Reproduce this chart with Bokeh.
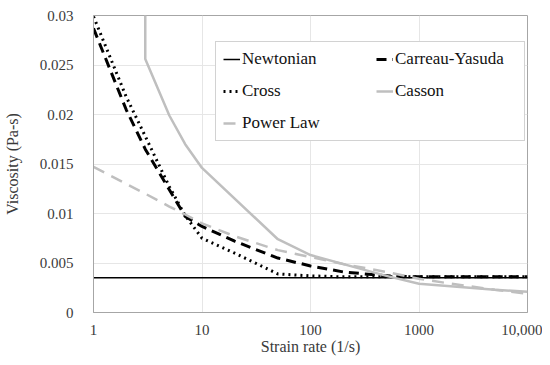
from bokeh.plotting import figure
from bokeh.models import FixedTicker, Legend, LegendItem, Range1d, InlineStyleSheet
from bokeh.embed import file_html
from bokeh.resources import INLINE

# ---- data ----
newt_x = [1, 10000]
newt_y = [0.0035, 0.0035]

cy_x = [1, 2, 3, 5, 7, 10, 20, 50, 100, 200, 500, 1000, 2000, 5000, 10000]
cy_y = [0.0287, 0.0205, 0.0165, 0.0124, 0.0097, 0.0087, 0.0072, 0.0055, 0.0047,
        0.0041, 0.0037, 0.0036, 0.0036, 0.0036, 0.0036]

cross_x = [1, 2, 3, 5, 7, 10, 20, 50, 100, 200, 500, 1000, 2000, 5000, 10000]
cross_y = [0.0299, 0.0218, 0.0178, 0.0127, 0.0098, 0.0075, 0.0060, 0.0039, 0.0037,
           0.0036, 0.0036, 0.0036, 0.0036, 0.0036, 0.0036]

casson_x = [3, 3, 5, 7, 10, 50, 100, 500, 1000, 5000, 10000]
casson_y = [0.0335, 0.0256, 0.0199, 0.0170, 0.0146, 0.0074, 0.0058, 0.0037, 0.0029,
            0.0023, 0.0021]

pl_x = [1, 2, 3, 5, 7, 10, 20, 50, 100, 200, 500, 1000, 2000, 5000, 10000]
pl_y = [0.0147, 0.0130, 0.0120, 0.0107, 0.0099, 0.0090, 0.0077, 0.0063, 0.0056,
        0.0049, 0.0041, 0.0034, 0.0029, 0.0023, 0.0019]

x_ticks = [1, 10, 100, 1000, 10000]
x_tick_labels = ["1", "10", "100", "1000", "10,000"]
y_ticks = [0, 0.005, 0.01, 0.015, 0.02, 0.025, 0.03]
y_tick_labels = ["0", "0.005", "0.01", "0.015", "0.02", "0.025", "0.03"]

FONT = "Liberation Serif"
GRAY = "#bfbfbf"
TXT = "#3a3a3a"

p = figure(width=542, height=357, x_axis_type="log", output_backend="svg",
           toolbar_location=None, x_range=Range1d(1, 10000), y_range=Range1d(0, 0.03),
           min_border_left=92, min_border_right=15, min_border_top=15, min_border_bottom=42)
p.stylesheets = [InlineStyleSheet(css='text { font-family: "Liberation Serif", serif !important; }')]

p.outline_line_color = "#a6a6a6"
p.outline_line_width = 1
p.background_fill_color = "white"
p.border_fill_color = "white"

for ax in (p.xaxis[0], p.yaxis[0]):
    ax.axis_line_color = "#a6a6a6"
    ax.major_tick_line_color = None
    ax.minor_tick_line_color = None
    ax.major_label_text_font = FONT
    ax.major_label_text_font_size = "15px"
    ax.major_label_text_color = TXT
    ax.axis_label_text_font = FONT
    ax.axis_label_text_font_size = "16px"
    ax.axis_label_text_font_style = "normal"
    ax.axis_label_text_color = TXT

p.xaxis.ticker = FixedTicker(ticks=x_ticks)
p.xaxis.major_label_overrides = dict(zip(x_ticks, x_tick_labels))
p.yaxis.ticker = FixedTicker(ticks=y_ticks)
p.yaxis.major_label_overrides = dict(zip(y_ticks, y_tick_labels))
p.xaxis.axis_label = "Strain rate (1/s)"
p.yaxis.axis_label = "Viscosity (Pa-s)"
p.xaxis.major_label_standoff = 6
p.yaxis.major_label_standoff = 14
p.xaxis.axis_label_standoff = 0
p.yaxis.axis_label_standoff = 16

p.xgrid.ticker = FixedTicker(ticks=x_ticks)
p.ygrid.ticker = FixedTicker(ticks=y_ticks)
p.xgrid.grid_line_color = "#e6e6e6"
p.ygrid.grid_line_color = "#e6e6e6"

r_newt = p.line(newt_x, newt_y, line_color="black", line_width=1.5)
r_cy = p.line(cy_x, cy_y, line_color="black", line_width=3, line_dash="10 6")
r_cross = p.line(cross_x, cross_y, line_color="black", line_width=3, line_dash="2 4")
r_casson = p.line(casson_x, casson_y, line_color=GRAY, line_width=2.5)
r_pl = p.line(pl_x, pl_y, line_color=GRAY, line_width=2.5, line_dash="12 8")

legend = Legend(items=[
    LegendItem(label="Newtonian", renderers=[r_newt]),
    LegendItem(label="Carreau-Yasuda", renderers=[r_cy]),
    LegendItem(label="Cross", renderers=[r_cross]),
    LegendItem(label="Casson", renderers=[r_casson]),
    LegendItem(label="Power Law", renderers=[r_pl]),
], orientation="horizontal", ncols=2, location=(122, 171))
legend.label_text_font = FONT
legend.label_text_font_size = "17px"
legend.label_text_color = "#111111"
legend.glyph_width = 17
legend.glyph_height = 20
legend.label_height = 20
legend.label_standoff = 2
legend.spacing = 12
legend.padding = 7
legend.margin = 0
legend.border_line_color = "#a6a6a6"
legend.border_line_width = 1
legend.background_fill_alpha = 1
legend.label_width = 122
p.add_layout(legend, "center")

open("out.html", "w").write(file_html(p, INLINE))
